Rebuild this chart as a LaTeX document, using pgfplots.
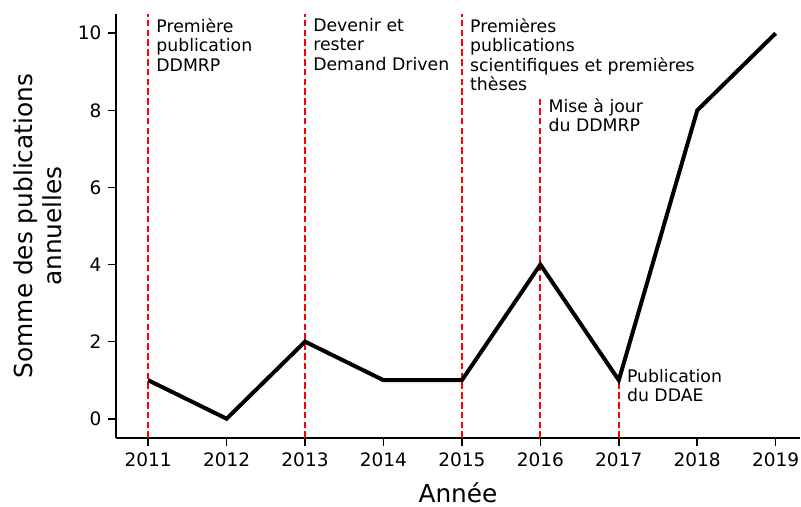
\documentclass[border=0pt]{standalone}
\usepackage{fontspec}
\setmainfont{DejaVu Sans}
\usepackage{pgfplots}
\pgfplotsset{compat=1.18}

\definecolor{redline}{RGB}{255,0,0}

\begin{document}
\begin{tikzpicture}
\begin{axis}[
    scale only axis,
    width=342pt,
    height=212pt,
    xmin=2010.59, xmax=2019.31,
    ymin=-0.5, ymax=10.5,
    axis lines*=left,
    axis line style={line width=0.8pt},
    tick align=outside,
    major tick length=3.8pt,
    every tick/.style={black, line width=0.8pt},
    xtick={2011,2012,...,2019},
    ytick={0,2,4,6,8,10},
    /pgf/number format/assume math mode=true,
    /pgf/number format/set thousands separator={},
    tick label style={font=\fontsize{9.25}{11}\selectfont},
    xlabel={Année},
    ylabel={Somme des publications\\annuelles},
    ylabel style={at={(axis description cs:-0.1148,0.5)}, anchor=center,
        align=center, font=\fontsize{12.4}{14.5}\selectfont},
    xlabel style={at={(axis description cs:0.5,-0.128)}, anchor=center,
        font=\fontsize{12.4}{14}\selectfont},
    clip=true,
]
% lignes verticales
\addplot[redline, line width=1pt, dash pattern=on 3.3pt off 1.6pt] coordinates {(2011,-0.5) (2011,10.5)};
\addplot[redline, line width=1pt, dash pattern=on 3.3pt off 1.6pt] coordinates {(2013,-0.5) (2013,10.5)};
\addplot[redline, line width=1pt, dash pattern=on 3.3pt off 1.6pt] coordinates {(2015,-0.5) (2015,10.5)};
\addplot[redline, line width=1pt, dash pattern=on 3.3pt off 1.6pt] coordinates {(2016,-0.5) (2016,8.3)};
\addplot[redline, line width=1pt, dash pattern=on 3.3pt off 1.6pt] coordinates {(2017,-0.5) (2017,1)};

% publications
\addplot[black, line width=2pt, line join=miter] coordinates {
    (2011,1) (2012,0) (2013,2) (2014,1) (2015,1)
    (2016,4) (2017,1) (2018,8) (2019,10)
};

\begin{scope}[every node/.style={anchor=north west, align=left, inner sep=0pt,
    font=\fontsize{8.65}{9.75}\selectfont}]
\node at (axis cs:2011.1,10.4) {Première\\publication\\DDMRP};
\node at (axis cs:2013.1,10.4) {Devenir et\\rester\\Demand Driven};
\node at (axis cs:2015.1,10.4) {Premières\\publications\\scientifiques et premières\\thèses};
\node at (axis cs:2016.1,8.32) {Mise à jour\\du DDMRP};
\node at (axis cs:2017.1,1.3) {Publication\\du DDAE};
\end{scope}
\end{axis}
\pgfresetboundingbox
\path ([shift={(-58pt,-34.5pt)}]current axis.south west) rectangle ([shift={(0.5pt,7pt)}]current axis.north east);
\end{tikzpicture}
\end{document}
